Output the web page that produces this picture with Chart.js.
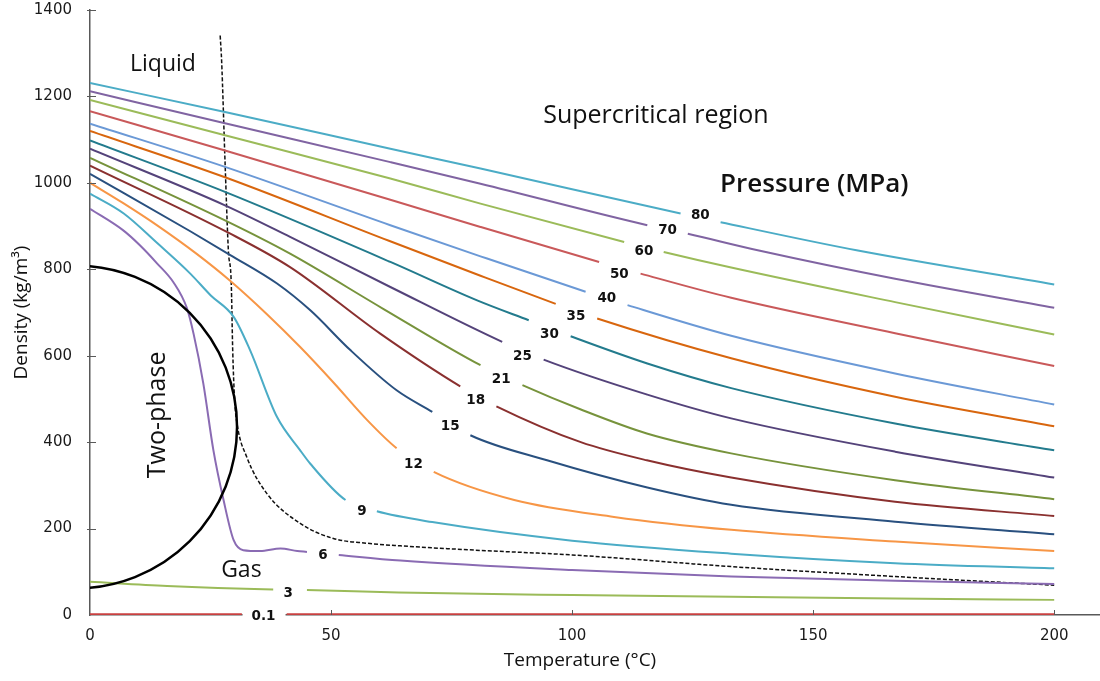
<!DOCTYPE html>
<html>
<head>
<meta charset="utf-8">
<script src="https://cdn.jsdelivr.net/npm/chart.js@4.4.0/dist/chart.umd.min.js"></script>
<style>
  html, body { margin: 0; padding: 0; background: #fff; }
  #wrap { width: 1100px; height: 681px; }
</style>
</head>
<body>
<div id="wrap"><canvas id="myChart" width="1100" height="681"></canvas></div>
<script>
// Isobars: [temperature (°C), density (kg/m3)]
const p80 = [[0,1231],[28,1164],[62.3,1079],[81,1033],[122.5,929],[130.8,909],[159,844],[200,765]];
const p70 = [[0,1212],[28,1138],[62.3,1048],[81,998],[115.6,902],[124,882],[138.5,844],[167,778],[200,711]];
const p60 = [[0,1192],[28,1110],[62.3,1010],[81,952],[110.8,863],[119,840],[133,804],[167,724],[200,649]];
const p50 = [[0,1166],[28,1075],[62.3,961],[81,898],[105.6,817],[114.2,790],[133,734],[167,652],[200,576]];
const p40 = [[0,1137],[28,1037],[62.3,902],[81,830],[102.8,748],[111.5,717],[133,646],[167,559],[200,487]];
const p35 = [[0,1120],[28,1013],[62,866],[81,785],[96.6,720],[105.2,686],[133,594],[167,505],[200,437]];
const p30 = [[0,1098],[28,979],[62.3,817],[80.3,728],[91,682],[99.7,645],[115.6,582],[133,525],[167,443],[200,381]];
const p25 = [[0,1079],[28,948],[41.5,875],[62.3,759],[85.5,632],[94.1,591],[115.6,510],[133,455],[167,378],[200,318]];
const p21 = [[0,1058],[28,913],[41.5,836],[60.9,708],[81,578],[89.7,532],[101.7,476],[115.5,420],[133,374],[167,312],[200,268]];
const p18 = [[0,1040],[29,883],[41.5,805],[60.2,651],[76.8,529],[84.3,483],[101.8,400],[115.5,358],[133,318],[167,262],[200,229]];
const p15 = [[0,1021],[20.8,888],[29.1,833],[38.8,767],[45.7,705],[54,613],[63.6,520],[71,470],[78.9,416],[94.8,358],[115.6,295],[133,255],[167,216],[200,187]];
const p12 = [[0,1000],[6.9,953],[14,901],[22.2,835],[29,774],[36.7,696],[43.6,620],[50.5,538],[57.5,451],[63.6,386],[71.3,331],[88,266],[108.7,227],[133,197],[167,170],[200,148]];
const p9  = [[0,975],[7,929],[14,860],[20.8,790],[25,740],[29.8,690],[33.2,613],[38.8,458],[43.6,381],[45.7,350],[53,266],[59.5,240],[71,215],[100,172],[133,142],[167,120],[200,108]];
const p6  = [[0,940],[6.9,890],[10.4,855],[13.8,815],[17.3,770],[20.1,710],[21.5,650],[23.5,536],[25.6,381],[27.7,266],[29.8,173],[31.8,150],[35.3,148],[39.5,154],[43,148],[45,146],[51.6,139],[64.4,126],[100,104],[133,89],[167,79],[200,72]];
const p3  = [[0,77],[16,67],[38,59],[45,58],[64,52],[100,46],[133,42],[167,38],[200,35]];
const p01 = [[0,2],[31.5,2],[40.8,2],[200,2]];

// dashed liquid / gas boundary
const boundary = [[27,1341],[27.3,1283],[28,1052],[28.7,844],[29.3,767],[29.6,613],[30,497],[30.5,443],[32.5,366],[36.7,281],[43.6,212],[50.5,177],[57.5,166],[64.4,160],[80,150],[100,139],[133,112],[167,89],[200,69]];

// two-phase dome: centre T, centre density, radius T, radius density
const twoPhase = [-3.0, 435, 33.5, 373.5];

const xTicks = [0, 50, 100, 150, 200];
const yTicks = [0, 200, 400, 600, 800, 1000, 1200, 1400];

const series = [
  { label: '80',  data: p80, color: '#4bacc6', gap: [122.5, 130.8], at: [126.6, 924] },
  { label: '70',  data: p70, color: '#8064a2', gap: [115.6, 124],   at: [119.8, 889] },
  { label: '60',  data: p60, color: '#9bbb59', gap: [110.8, 119],   at: [114.9, 841] },
  { label: '50',  data: p50, color: '#c9595a', gap: [105.6, 114.2], at: [109.8, 787] },
  { label: '40',  data: p40, color: '#6b99d6', gap: [102.8, 111.5], at: [107.2, 733] },
  { label: '35',  data: p35, color: '#d8660e', gap: [96.6, 105.2],  at: [100.8, 690] },
  { label: '30',  data: p30, color: '#237b8d', gap: [91, 99.7],     at: [95.3, 648] },
  { label: '25',  data: p25, color: '#54437a', gap: [85.5, 94.1],   at: [89.7, 599] },
  { label: '21',  data: p21, color: '#77933c', gap: [81, 89.7],     at: [85.3, 544] },
  { label: '18',  data: p18, color: '#8a302f', gap: [76.8, 84.3],   at: [80.0, 496] },
  { label: '15',  data: p15, color: '#29507f', gap: [71, 78.9],     at: [74.7, 436] },
  { label: '12',  data: p12, color: '#f79646', gap: [63.6, 71.3],   at: [67.1, 349] },
  { label: '9',   data: p9,  color: '#4bacc6', gap: [53, 59.5],     at: [56.4, 239] },
  { label: '6',   data: p6,  color: '#8a6bb3', gap: [45, 51.6],     at: [48.3, 137] },
  { label: '3',   data: p3,  color: '#9bbb59', gap: [38, 45],       at: [41.1, 50] },
  { label: '0.1', data: p01, color: '#c94040', gap: [31.5, 40.8],   at: [36.0, -4], box: true }
];

const notes = [
  { text: 'Liquid', at: [8.3, 1260], font: '23px "Open Sans"' },
  { text: 'Supercritical region', at: [94.0, 1138], font: '25px "Open Sans"' },
  { text: 'Pressure (MPa)', at: [130.7, 979], font: '600 26px "Open Sans"' },
  { text: 'Gas', at: [27.2, 89], font: '23px "Open Sans"' },
  { text: 'Two-phase', at: [14.1, 463], font: '25px "Open Sans"', rotate: true }
];

const datasets = series.map(s => ({
  label: s.label,
  data: s.data.map(d => ({ x: d[0], y: d[1] })),
  borderColor: s.color,
  borderWidth: 2,
  pointRadius: 0,
  cubicInterpolationMode: 'monotone',
  segment: {
    borderColor: c => (c.p0.parsed.x >= s.gap[0] - 1e-6 && c.p1.parsed.x <= s.gap[1] + 1e-6) ? 'rgba(0,0,0,0)' : s.color
  }
}));

datasets.push({
  label: 'boundary',
  data: boundary.map(d => ({ x: d[0], y: d[1] })),
  borderColor: '#111',
  borderWidth: 1.5,
  borderDash: [4, 2],
  pointRadius: 0,
  cubicInterpolationMode: 'monotone'
});

const overlay = {
  id: 'overlay',
  afterDatasetsDraw(chart) {
    const { ctx, chartArea: a, scales: { x, y } } = chart;

    // two-phase circle, cut at the axis
    ctx.save();
    ctx.beginPath();
    ctx.rect(a.left, a.top, a.right - a.left, a.bottom - a.top);
    ctx.clip();
    const cx = x.getPixelForValue(twoPhase[0]);
    const cy = y.getPixelForValue(twoPhase[1]);
    const rx = x.getPixelForValue(twoPhase[0] + twoPhase[2]) - cx;
    const ry = cy - y.getPixelForValue(twoPhase[1] + twoPhase[3]);
    ctx.beginPath();
    ctx.ellipse(cx, cy, rx, ry, 0, 0, Math.PI * 2);
    ctx.lineWidth = 2.5;
    ctx.strokeStyle = '#000';
    ctx.stroke();
    ctx.restore();

    // inward tick marks
    ctx.save();
    ctx.strokeStyle = '#595959';
    ctx.lineWidth = 1;
    xTicks.slice(1).forEach(v => {
      const px = Math.round(x.getPixelForValue(v)) + 0.5;
      ctx.beginPath(); ctx.moveTo(px, a.bottom); ctx.lineTo(px, a.bottom - 5); ctx.stroke();
    });
    yTicks.slice(1).forEach(v => {
      const py = Math.round(y.getPixelForValue(v)) + 0.5;
      ctx.beginPath(); ctx.moveTo(a.left - 3, py); ctx.lineTo(a.left + 6, py); ctx.stroke();
    });
    ctx.restore();

    // pressure labels
    ctx.save();
    ctx.font = 'bold 13.5px "DejaVu Sans"';
    ctx.textAlign = 'center';
    ctx.textBaseline = 'middle';
    series.forEach(s => {
      const px = x.getPixelForValue(s.at[0]);
      const py = y.getPixelForValue(s.at[1]);
      if (s.box) {
        ctx.fillStyle = '#fff';
        ctx.fillRect(px - 21, py - 7, 43, 13);
      }
      ctx.fillStyle = '#111';
      ctx.fillText(s.label, px, py);
    });
    ctx.restore();

    // region notes
    ctx.save();
    ctx.fillStyle = '#111';
    notes.forEach(n => {
      const px = x.getPixelForValue(n.at[0]);
      const py = y.getPixelForValue(n.at[1]);
      ctx.font = n.font;
      if (n.rotate) {
        ctx.save();
        ctx.translate(px, py);
        ctx.rotate(-Math.PI / 2);
        ctx.textAlign = 'center';
        ctx.textBaseline = 'middle';
        ctx.fillText(n.text, 0, 0);
        ctx.restore();
      } else {
        ctx.textAlign = 'left';
        ctx.textBaseline = 'alphabetic';
        ctx.fillText(n.text, px, py);
      }
    });
    ctx.restore();

    // axis titles
    ctx.save();
    ctx.fillStyle = '#111';
    ctx.font = '19px "Open Sans"';
    ctx.textAlign = 'center';
    ctx.textBaseline = 'middle';
    ctx.fillText('Temperature (°C)', a.left + 490, 661);
    ctx.translate(22, (a.top + a.bottom) / 2);
    ctx.rotate(-Math.PI / 2);
    ctx.fillText('Density (kg/m³)', 0, 0);
    ctx.restore();
  }
};

const ctx = document.getElementById('myChart').getContext('2d');
const myChart = new Chart(ctx, {
  type: 'line',
  data: { datasets: datasets },
  options: {
    responsive: false,
    animation: false,
    layout: { padding: { top: 10, right: 0, left: 0, bottom: 0 } },
    plugins: { legend: { display: false }, tooltip: { enabled: false } },
    scales: {
      x: {
        type: 'linear',
        min: 0,
        max: 209.5,
        afterBuildTicks: s => { s.ticks = xTicks.map(v => ({ value: v })); },
        afterFit: s => { s.height = 66; s.paddingLeft = 0; s.paddingRight = 0; },
        grid: { display: false, drawTicks: false },
        border: { display: true, color: '#595959', width: 1.5 },
        ticks: { font: { family: 'DejaVu Sans', size: 15 }, color: '#1a1a1a', padding: 12, maxRotation: 0,
                 callback: v => String(v) }
      },
      y: {
        type: 'linear',
        min: 0,
        max: 1400,
        afterBuildTicks: s => { s.ticks = yTicks.map(v => ({ value: v })); },
        afterFit: s => { s.width = 90; s.paddingTop = 0; s.paddingBottom = 0; },
        grid: { display: false, drawTicks: false },
        border: { display: true, color: '#595959', width: 1.5 },
        ticks: { font: { family: 'DejaVu Sans', size: 15 }, color: '#1a1a1a', padding: 18,
                 callback: v => String(v) }
      }
    }
  },
  plugins: [overlay]
});
</script>
</body>
</html>
